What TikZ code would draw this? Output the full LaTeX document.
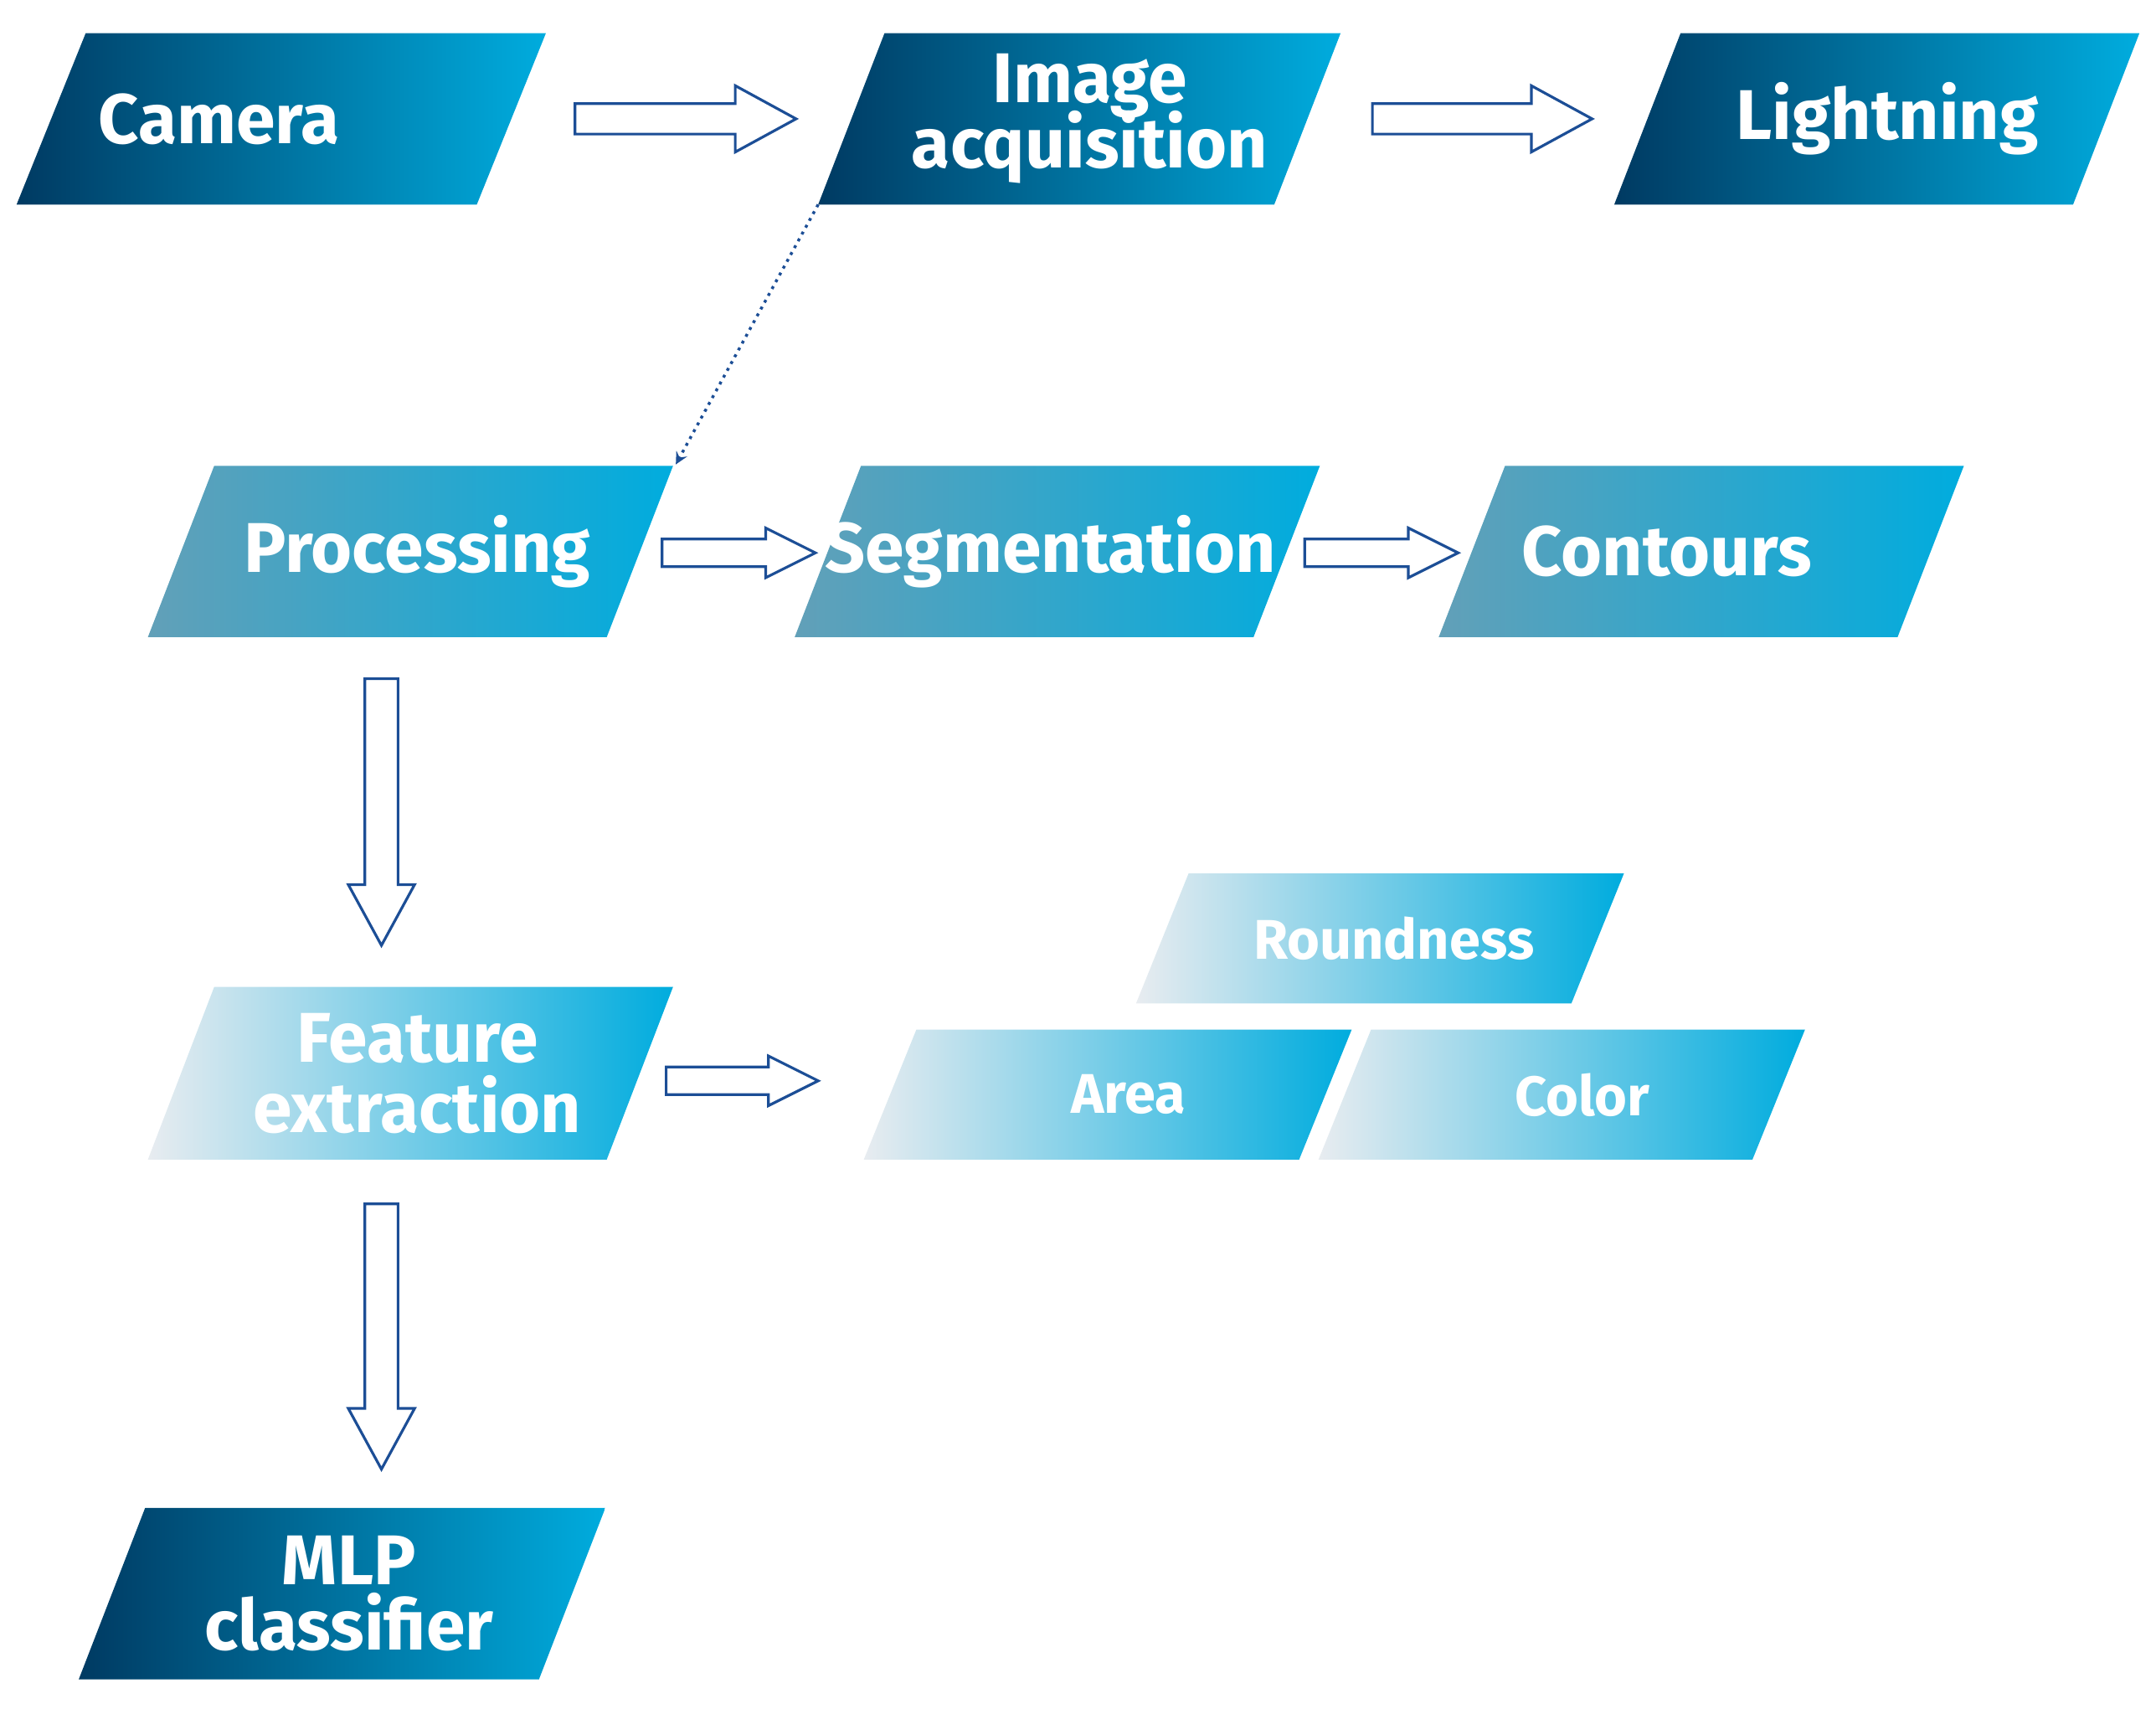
\documentclass[tikz,border=0pt]{standalone}
\usepackage{fontspec}
\setmainfont{Fira Sans}
\begin{document}
\begin{tikzpicture}[x=0.02cm,y=-0.02cm,
  lbl/.style={text=white,font=\bfseries\fontsize{29}{33}\selectfont,align=center},
  slbl/.style={text=white,font=\bfseries\fontsize{23}{27}\selectfont,align=center},
  arr/.style={draw=arrblue,line width=1.1pt,fill=white,line join=miter}]
\definecolor{dark}{RGB}{0,58,98}
\definecolor{cyan}{RGB}{0,172,222}
\definecolor{steel}{RGB}{98,160,184}
\definecolor{pale}{RGB}{232,236,240}
\definecolor{arrblue}{RGB}{28,78,150}
\useasboundingbox (0,0) rectangle (1560,1236);
% parallelograms: bl x, top y, bottom y, width, skew
\newcommand\para[7]{% name, blx, topy, boty, width, skew, left colour
  \shade[left color=#7,right color=cyan] (#2,#4) -- ({#2+#6},#3) -- ({#2+#6+#5},#3) -- ({#2+#5},#4) -- cycle;
  \coordinate (#1) at ({#2+(#6+#5)/2},{(#3+#4)/2});}
\para{cam}{12}{24}{148}{333}{50}{dark}
\para{img}{592}{24}{148}{330}{48}{dark}
\para{lig}{1168}{24}{148}{332}{48}{dark}
\para{pro}{107}{337}{461}{332}{48}{steel}
\para{seg}{575}{337}{461}{332}{48}{steel}
\para{con}{1041}{337}{461}{332}{48}{steel}
\para{fea}{107}{714}{839}{332}{48}{pale}
\para{rou}{822}{632}{726}{315}{38}{pale}
\para{are}{625}{745}{839}{315}{38}{pale}
\para{col}{954}{745}{839}{314}{38}{pale}
\para{mlp}{57}{1091}{1215}{333}{48}{dark}
\node[lbl] (tcam) at ([xshift=-0.9cm]cam) {Camera};
\node[lbl] (timg) at ([xshift=0.15cm]img) {Image\\[-6pt]acquisition};
\node[lbl] (tlig) at ([xshift=0.15cm]lig) {Lightning};
\node[lbl] (tpro) at ([xshift=0.1cm]pro) {Processing};
\node[lbl] (tseg) at ([xshift=-0.1cm]seg) {Segmentation};
\node[lbl] (tcon) at ([xshift=-0.5cm]con) {Contours};
\node[lbl] (tfea) at ([xshift=0.1cm]fea) {Feature\\[-4pt]extraction};
\node[slbl] (trou) at ([xshift=0.2cm]rou) {Roundness};
\node[slbl] (tare) at ([xshift=0.3cm]are) {Area};
\node[slbl] (tcol) at ([xshift=0.3cm]col) {Color};
\node[lbl] (tmlp) at ([xshift=0.1cm]mlp) {MLP\\[-6pt]classifier};
% horizontal block arrows: x1,x2,y,shaft half,head half,head len
\newcommand\harr[6]{\draw[arr] (#1,{#3-#4}) -- ({#2-#6},{#3-#4}) -- ({#2-#6},{#3-#5}) -- (#2,#3) -- ({#2-#6},{#3+#5}) -- ({#2-#6},{#3+#4}) -- (#1,{#3+#4}) -- cycle;}
\newcommand\varr[6]{\draw[arr] ({#3-#4},#1) -- ({#3-#4},{#2-#6}) -- ({#3-#5},{#2-#6}) -- (#3,#2) -- ({#3+#5},{#2-#6}) -- ({#3+#4},{#2-#6}) -- ({#3+#4},#1) -- cycle;}
\harr{416}{576}{86}{11}{24}{44}
\harr{993}{1152}{86}{11}{24}{44}
\harr{479}{590}{400}{10}{18}{36}
\harr{944}{1055}{400}{10}{18}{36}
\harr{482}{592}{782}{10}{18}{36}
\varr{491}{684}{276}{12}{24}{44}
\varr{871}{1063}{276}{12}{24}{44}
\coordinate (dstart) at (592,148);
\coordinate (dend) at (489,336);
\draw[arrblue,line width=1.2pt,dotted,-stealth] (dstart) -- (dend);
\end{tikzpicture}
\end{document}
